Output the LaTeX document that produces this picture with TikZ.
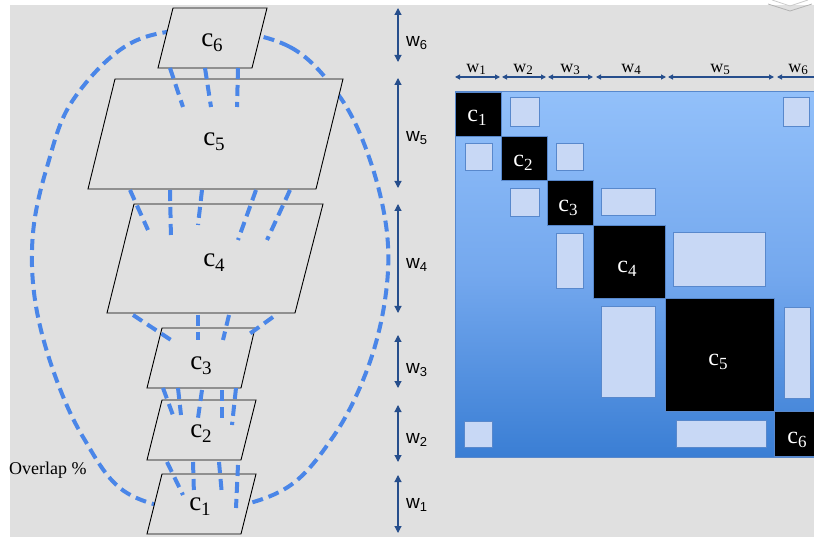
\documentclass[tikz,border=0pt]{standalone}
\usepackage{fontspec}
\setmainfont{Liberation Serif}
\newfontfamily\arialf{Liberation Sans}
\usetikzlibrary{arrows.meta}
\definecolor{bg}{RGB}{224,224,224}
\definecolor{dblue}{RGB}{74,134,232}
\definecolor{arr}{RGB}{38,78,140}
\definecolor{mtop}{RGB}{146,192,250}
\definecolor{mmid}{RGB}{116,168,238}
\definecolor{mbot}{RGB}{58,126,212}
\definecolor{lbfill}{RGB}{200,216,245}
\definecolor{lbdraw}{RGB}{88,136,204}
\newcommand{\mylbl}[5]{{\fontsize{#1}{#1}\selectfont #4}\raisebox{-#3}{\fontsize{#2}{#2}\selectfont #5}}
\tikzset{
  para/.style={draw=black, line width=0.9pt, fill=bg},
  ovl/.style={draw=dblue, line width=4pt, dash pattern=on 11pt off 6pt},
  warr/.style={draw=arr, line width=1.1pt, {Triangle[length=7pt,width=7pt]}-{Triangle[length=7pt,width=7pt]}},
  harr/.style={draw=arr, line width=1.1pt, {Triangle[length=5pt,width=5pt]}-{Triangle[length=5pt,width=5pt]}},
  cbox/.style={fill=black, draw=lbdraw, line width=0.8pt},
  lbox/.style={fill=lbfill, draw=lbdraw, line width=1pt},
  plab/.style={inner sep=0pt, anchor=base},
  mlab/.style={inner sep=0pt, anchor=base, text=white},
  rlab/.style={inner sep=0pt, anchor=base west, font=\arialf},
  tlab/.style={inner sep=0pt, anchor=base},
  odash/.style={draw=dblue, line width=4pt, dash pattern=on 11pt off 6pt},
}
\begin{document}
\begin{tikzpicture}[x=1pt,y=-1pt]
\useasboundingbox (0,0) rectangle (814,537);
\clip (0,0) rectangle (814,537);
\fill[bg] (10,5) rectangle (814,537);
% chevron artifact
\draw[gray!60, line width=0.8pt] (768,4) -- (790,11) -- (812,4);
\draw[gray!40, line width=0.8pt] (772,0) -- (790,6) -- (808,0);

% overlap curve
\draw[ovl] plot[smooth cycle, tension=0.6] coordinates {
 (213,30) (290,47) (340,97) (370,160) (387,233) (385,300) (367,370) (333,437)
 (283,490) (203,510) (127,493) (83,437) (53,370) (35,300) (33,233) (47,167)
 (73,100) (133,42)};

% parallelograms
\draw[para] (173,8) -- (267,8) -- (252,68) -- (158,68) -- cycle;
\draw[para] (115,79) -- (343,79) -- (316,189) -- (88,189) -- cycle;
\draw[para] (134,204) -- (323,204) -- (295,313) -- (107,313) -- cycle;
\draw[para] (162,328) -- (255,328) -- (241,388) -- (147,388) -- cycle;
\draw[para] (162,400) -- (256,400) -- (241,460) -- (147,460) -- cycle;
\draw[para] (162,474) -- (256,474) -- (241,534) -- (147,534) -- cycle;

\node[plab] (p6) at (212,47) {\mylbl{27}{19}{5pt}{c}{6}};
\node[plab] (p5) at (214,146) {\mylbl{27}{19}{5pt}{c}{5}};
\node[plab] (p4) at (214,267) {\mylbl{27}{19}{5pt}{c}{4}};
\node[plab] (p3) at (201,370) {\mylbl{27}{19}{5pt}{c}{3}};
\node[plab] (p2) at (201,437) {\mylbl{27}{19}{5pt}{c}{2}};
\node[plab] (p1) at (200,510) {\mylbl{27}{19}{5pt}{c}{1}};

% overlap dashes
\draw[odash] (170,68) -- (183,107);
\draw[odash] (205,68) -- (211,107);
\draw[odash] (238,68) -- (237,107);
\draw[odash] (130,190) -- (148,230);
\draw[odash] (170,190) -- (171,240);
\draw[odash] (202,190) -- (198,225);
\draw[odash] (256,190) -- (238,240);
\draw[odash] (290,190) -- (267,240);
\draw[odash] (133,315) -- (171,340);
\draw[odash] (198,315) -- (198,340);
\draw[odash] (229,315) -- (223,340);
\draw[odash] (273,317) -- (248,335);
\draw[odash] (163,388) -- (174,418);
\draw[odash] (178,388) -- (181,415);
\draw[odash] (202,390) -- (198,418);
\draw[odash] (222,390) -- (222,418);
\draw[odash] (236,388) -- (232,425);
\draw[odash] (167,462) -- (183,495);
\draw[odash] (193,462) -- (194,495);
\draw[odash] (219,462) -- (222,495);
\draw[odash] (238,465) -- (236,508);

\node[inner sep=0pt, anchor=base west, font=\fontsize{18}{18}\selectfont] (ov) at (9,474) {Overlap \%};

% right width arrows
\draw[warr] (398,8) -- (398,62);
\draw[warr] (398,78) -- (398,188);
\draw[warr] (398,204) -- (398,313);
\draw[warr] (398,335) -- (398,388);
\draw[warr] (398,405) -- (398,462);
\draw[warr] (398,475) -- (398,533);
\node[rlab] (r6) at (406,47) {\mylbl{19}{13}{3pt}{w}{6}};
\node[rlab] (r5) at (406,142) {\mylbl{19}{13}{3pt}{w}{5}};
\node[rlab] (r4) at (406,269) {\mylbl{19}{13}{3pt}{w}{4}};
\node[rlab] (r3) at (406,373) {\mylbl{19}{13}{3pt}{w}{3}};
\node[rlab] (r2) at (406,443) {\mylbl{19}{13}{3pt}{w}{2}};
\node[rlab] (r1) at (406,508) {\mylbl{19}{13}{3pt}{w}{1}};

% matrix
\shade[top color=mtop, bottom color=mbot, middle color=mmid] (455,92) rectangle (830,457);
\draw[lbdraw, line width=1pt] (455,92) rectangle (830,457);

\draw[lbox] (510,98) rectangle (539,127);
\draw[lbox] (783,98) rectangle (809,127);
\draw[lbox] (465,144) rectangle (492,171);
\draw[lbox] (556,144) rectangle (583,171);
\draw[lbox] (510,189) rectangle (539,217);
\draw[lbox] (601,189) rectangle (655,216);
\draw[lbox] (556,234) rectangle (583,289);
\draw[lbox] (673,233) rectangle (765,287);
\draw[lbox] (601,307) rectangle (655,397);
\draw[lbox] (784,308) rectangle (810,398);
\draw[lbox] (464,421) rectangle (492,447);
\draw[lbox] (676,420) rectangle (766,447);

\draw[cbox] (455,92) rectangle (501,136);
\draw[cbox] (501,136) rectangle (547,180);
\draw[cbox] (547,180) rectangle (593,225);
\draw[cbox] (593,225) rectangle (665,298);
\draw[cbox] (665,298) rectangle (774,411);
\draw[cbox] (774,411) rectangle (830,456);

\node[mlab] (m1) at (477,122) {\mylbl{24}{17}{4pt}{c}{1}};
\node[mlab] (m2) at (523,167) {\mylbl{24}{17}{4pt}{c}{2}};
\node[mlab] (m3) at (568,212) {\mylbl{24}{17}{4pt}{c}{3}};
\node[mlab] (m4) at (627,273) {\mylbl{24}{17}{4pt}{c}{4}};
\node[mlab] (m5) at (718,365) {\mylbl{24}{17}{4pt}{c}{5}};
\node[mlab] (m6) at (797,443) {\mylbl{24}{17}{4pt}{c}{6}};

% top width arrows
\draw[harr] (455,77) -- (500,77);
\draw[harr] (502,77) -- (546,77);
\draw[harr] (548,77) -- (593,77);
\draw[harr] (596,77) -- (666,77);
\draw[harr] (668,77) -- (774,77);
\draw[harr] (777,77) -- (830,77);
\node[tlab] (t1) at (476,73) {\mylbl{18}{13}{2pt}{w}{1}};
\node[tlab] (t2) at (523,73) {\mylbl{18}{13}{2pt}{w}{2}};
\node[tlab] (t3) at (570,73) {\mylbl{18}{13}{2pt}{w}{3}};
\node[tlab] (t4) at (631,73) {\mylbl{18}{13}{2pt}{w}{4}};
\node[tlab] (t5) at (720,73) {\mylbl{18}{13}{2pt}{w}{5}};
\node[tlab] (t6) at (798,73) {\mylbl{18}{13}{2pt}{w}{6}};
\end{tikzpicture}
\end{document}
